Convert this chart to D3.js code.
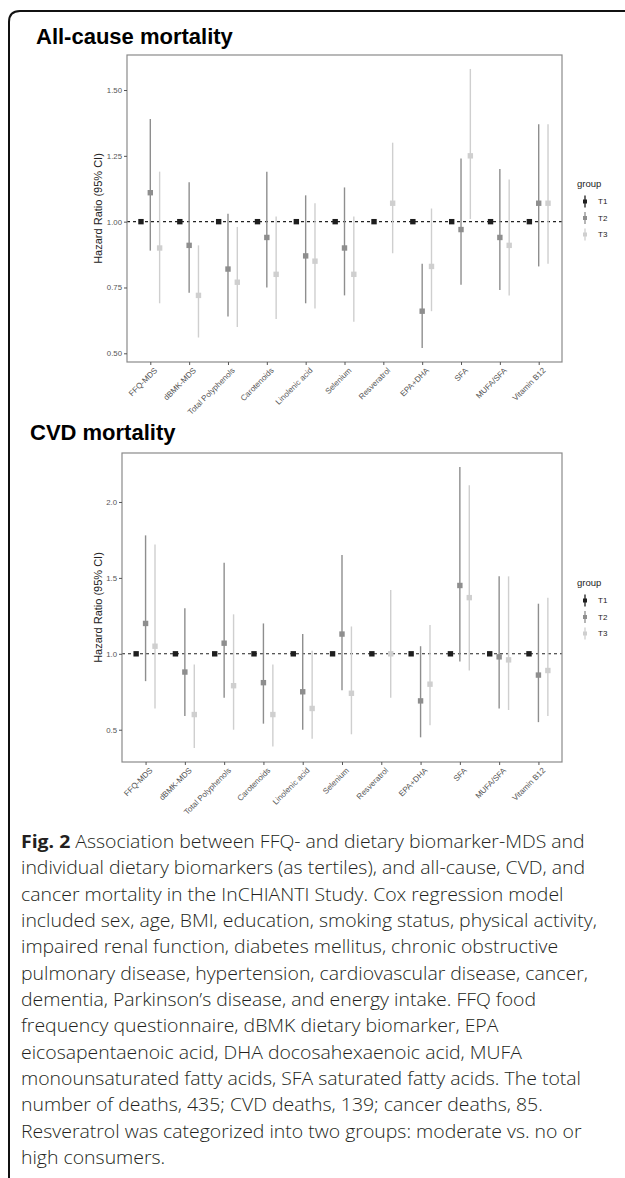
<!DOCTYPE html>
<html>
<head>
<meta charset="utf-8">
<script src="https://cdn.jsdelivr.net/npm/d3@7"></script>
<style>
  body { margin: 0; background: #fff; }
  svg { display: block; }
  .axis text { font-family: "Liberation Sans", Arial, sans-serif; fill: #555; }
  .axis line { stroke: #555; }
  .axis .domain { display: none; }
</style>
</head>
<body>
<svg id="fig" width="625" height="1178"></svg>
<script>
var categories = ["FFQ-MDS", "dBMK-MDS", "Total Polyphenols", "Carotenoids", "Linolenic acid",
  "Selenium", "Resveratrol", "EPA+DHA", "SFA", "MUFA/SFA", "Vitamin B12"];
var groups = ["T1", "T2", "T3"];
var groupColors = ["#1e1e1e", "#8e8e8e", "#cfcfcf"];

// all-cause mortality (T1 is the reference, HR = 1)
var allT2   = [1.11, 0.91, 0.82, 0.94, 0.87, 0.90, null, 0.66, 0.97, 0.94, 1.07];
var allT2Lo = [0.89, 0.73, 0.64, 0.75, 0.69, 0.72, null, 0.52, 0.76, 0.74, 0.83];
var allT2Hi = [1.39, 1.15, 1.03, 1.19, 1.10, 1.13, null, 0.84, 1.24, 1.20, 1.37];
var allT3   = [0.90, 0.72, 0.77, 0.80, 0.85, 0.80, 1.07, 0.83, 1.25, 0.91, 1.07];
var allT3Lo = [0.69, 0.56, 0.60, 0.63, 0.67, 0.62, 0.88, 0.66, 1.01, 0.72, 0.84];
var allT3Hi = [1.19, 0.91, 0.98, 1.02, 1.07, 1.02, 1.30, 1.05, 1.58, 1.16, 1.37];
var allTicks = [0.5, 0.75, 1.0, 1.25, 1.5];

// CVD mortality
var cvdT2   = [1.20, 0.88, 1.07, 0.81, 0.75, 1.13, null, 0.69, 1.45, 0.98, 0.86];
var cvdT2Lo = [0.82, 0.59, 0.71, 0.54, 0.50, 0.76, null, 0.45, 0.95, 0.64, 0.55];
var cvdT2Hi = [1.78, 1.30, 1.60, 1.20, 1.13, 1.65, null, 1.05, 2.23, 1.51, 1.33];
var cvdT3   = [1.05, 0.60, 0.79, 0.60, 0.64, 0.74, 1.00, 0.80, 1.37, 0.96, 0.89];
var cvdT3Lo = [0.64, 0.38, 0.50, 0.39, 0.44, 0.47, 0.71, 0.53, 0.89, 0.63, 0.59];
var cvdT3Hi = [1.72, 0.93, 1.26, 0.93, 1.02, 1.18, 1.42, 1.19, 2.11, 1.51, 1.37];
var cvdTicks = [0.5, 1.0, 1.5, 2.0];

var captionLines = [
  "Association between FFQ- and dietary biomarker-MDS and",
  "individual dietary biomarkers (as tertiles), and all-cause, CVD, and",
  "cancer mortality in the InCHIANTI Study. Cox regression model",
  "included sex, age, BMI, education, smoking status, physical activity,",
  "impaired renal function, diabetes mellitus, chronic obstructive",
  "pulmonary disease, hypertension, cardiovascular disease, cancer,",
  "dementia, Parkinson\u2019s disease, and energy intake. FFQ food",
  "frequency questionnaire, dBMK dietary biomarker, EPA",
  "eicosapentaenoic acid, DHA docosahexaenoic acid, MUFA",
  "monounsaturated fatty acids, SFA saturated fatty acids. The total",
  "number of deaths, 435; CVD deaths, 139; cancer deaths, 85.",
  "Resveratrol was categorized into two groups: moderate vs. no or",
  "high consumers."
];

var svg = d3.select("#fig");

// outer frame, open at right and bottom
svg.append("path")
  .attr("d", "M9,1178 L9,22 Q9,11 20,11 L625,11")
  .attr("fill", "none")
  .attr("stroke", "#111")
  .attr("stroke-width", 2);

function makeRows(t2, t2lo, t2hi, t3, t3lo, t3hi) {
  var rows = [];
  categories.forEach(function(c, i) {
    rows.push({cat: c, group: "T1", hr: 1, lo: 1, hi: 1});
    if (t2[i] != null) rows.push({cat: c, group: "T2", hr: t2[i], lo: t2lo[i], hi: t2hi[i]});
    if (t3[i] != null) rows.push({cat: c, group: "T3", hr: t3[i], lo: t3lo[i], hi: t3hi[i]});
  });
  return rows;
}

function drawPanel(rows, o) {
  var g = svg.append("g");

  g.append("text")
    .attr("x", o.titleX).attr("y", o.titleY)
    .style("font-family", "'Liberation Sans', Arial, sans-serif")
    .style("font-weight", "bold")
    .style("font-size", "22px")
    .attr("fill", "#000")
    .text(o.title);

  var lo = d3.min(rows, function(d) { return d.lo; }),
      hi = d3.max(rows, function(d) { return d.hi; }),
      pad = (hi - lo) * 0.05;

  var y = d3.scaleLinear().domain([lo - pad, hi + pad]).range([o.bottom, o.top]);
  var x = d3.scalePoint().domain(categories).range([o.left, o.right]).padding(0.6);
  var dodge = d3.scalePoint().domain(groups).range([-0.24 * x.step(), 0.24 * x.step()]);
  var color = d3.scaleOrdinal().domain(groups).range(groupColors);

  g.append("line")
    .attr("x1", o.left).attr("x2", o.right)
    .attr("y1", y(1)).attr("y2", y(1))
    .attr("stroke", "#222")
    .attr("stroke-width", 1.1)
    .attr("stroke-dasharray", "3,3");

  var pr = g.selectAll(".pr")
    .data(rows)
    .enter().append("g")
    .attr("class", "pr")
    .attr("transform", function(d) { return "translate(" + (x(d.cat) + dodge(d.group)) + ",0)"; });

  pr.append("line")
    .attr("y1", function(d) { return y(d.lo); })
    .attr("y2", function(d) { return y(d.hi); })
    .attr("stroke", function(d) { return color(d.group); })
    .attr("stroke-width", 1.4);

  pr.append("rect")
    .attr("x", -2.7).attr("width", 5.4).attr("height", 5.4)
    .attr("y", function(d) { return y(d.hr) - 2.7; })
    .attr("fill", function(d) { return color(d.group); });

  g.append("rect")
    .attr("x", o.left).attr("y", o.top)
    .attr("width", o.right - o.left).attr("height", o.bottom - o.top)
    .attr("fill", "none")
    .attr("stroke", "#8a8a8a")
    .attr("stroke-width", 1.2);

  var yAxis = g.append("g")
    .attr("class", "axis")
    .attr("transform", "translate(" + o.left + ",0)")
    .call(d3.axisLeft(y).tickValues(o.ticks).tickFormat(d3.format(o.fmt)).tickSize(3).tickPadding(2));
  yAxis.selectAll("text").style("font-size", "7.8px");

  var xAxis = g.append("g")
    .attr("class", "axis")
    .attr("transform", "translate(0," + o.bottom + ")")
    .call(d3.axisBottom(x).tickSize(3).tickPadding(2));
  xAxis.selectAll("text")
    .style("font-size", "8px")
    .style("text-anchor", "end")
    .attr("x", 0).attr("y", 0).attr("dy", "0.7em")
    .attr("transform", "translate(3,5) rotate(-45)");

  g.append("text")
    .attr("transform", "translate(" + o.yTitleX + "," + ((o.top + o.bottom) / 2) + ") rotate(-90)")
    .attr("text-anchor", "middle")
    .attr("dy", "0.35em")
    .style("font-family", "'Liberation Sans', Arial, sans-serif")
    .style("font-size", "11px")
    .attr("fill", "#222")
    .text("Hazard Ratio (95% CI)");

  // legend
  var leg = g.append("g").attr("transform", "translate(577," + o.legendY + ")");
  leg.append("text")
    .attr("x", 0).attr("y", 0).attr("dy", "0.35em")
    .style("font-family", "'Liberation Sans', Arial, sans-serif")
    .style("font-size", "9.5px")
    .attr("fill", "#222")
    .text("group");
  var key = leg.selectAll(".key")
    .data(groups)
    .enter().append("g")
    .attr("class", "key")
    .attr("transform", function(d, i) { return "translate(0," + (17.5 + i * 16.5) + ")"; });
  key.append("line")
    .attr("x1", 8).attr("x2", 8).attr("y1", -6).attr("y2", 6)
    .attr("stroke", function(d) { return color(d); })
    .attr("stroke-width", 1.3);
  key.append("rect")
    .attr("x", 6).attr("y", -2).attr("width", 4).attr("height", 4)
    .attr("fill", function(d) { return color(d); });
  key.append("text")
    .attr("x", 21).attr("y", 0).attr("dy", "0.35em")
    .style("font-family", "'Liberation Sans', Arial, sans-serif")
    .style("font-size", "8px")
    .attr("fill", "#222")
    .text(function(d) { return d; });
}

drawPanel(makeRows(allT2, allT2Lo, allT2Hi, allT3, allT3Lo, allT3Hi), {
  title: "All-cause mortality", titleX: 36, titleY: 44,
  left: 127, right: 562, top: 55, bottom: 362,
  ticks: allTicks, fmt: ".2f", yTitleX: 98, legendY: 184
});

drawPanel(makeRows(cvdT2, cvdT2Lo, cvdT2Hi, cvdT3, cvdT3Lo, cvdT3Hi), {
  title: "CVD mortality", titleX: 30, titleY: 440,
  left: 122, right: 562, top: 453, bottom: 762,
  ticks: cvdTicks, fmt: ".1f", yTitleX: 98, legendY: 583
});

// caption
var cap = svg.append("g");
var capText = cap.selectAll(".cap")
  .data(captionLines)
  .enter().append("text")
  .attr("class", "cap")
  .attr("x", 0)
  .attr("y", function(d, i) { return i * 26.35; })
  .style("font-family", "'Open Sans', 'Noto Sans', sans-serif")
  .style("font-size", "18.5px")
  .style("font-weight", "300")
  .attr("fill", "#231f20");

capText.each(function(d, i) {
  var t = d3.select(this);
  if (i == 0) {
    t.append("tspan").style("font-weight", "bold").text("Fig. 2 ");
  }
  t.append("tspan").text(d);
});

var widest = capText.nodes()[3].getComputedTextLength();
var k = 576 / widest;
cap.attr("transform", "translate(21,848) scale(" + k + ",1)");
</script>
</body>
</html>
